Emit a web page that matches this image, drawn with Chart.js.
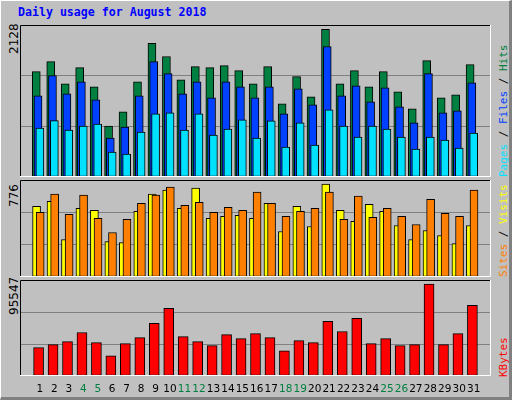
<!DOCTYPE html>
<html><head><meta charset="utf-8">
<script src="https://cdn.jsdelivr.net/npm/chart.js@4"></script>
<style>
body{margin:0;}
#wrap{position:relative;width:512px;height:400px;background:#c0c0c0;box-sizing:border-box;border-style:solid;border-width:1px 3px 3px 1px;border-color:#fff #808080 #808080 #fff;overflow:hidden;font-family:"DejaVu Sans Mono",monospace;}
canvas{position:absolute;}
.t{position:absolute;white-space:nowrap;}
.rot{position:absolute;white-space:nowrap;transform-origin:0 0;transform:rotate(-90deg);}
</style></head><body>
<div id="wrap">
<div class="t" style="left:17px;top:4px;color:#0000ff;font-weight:bold;font-size:11.6px;">Daily usage for August 2018</div>
<div class="rot" style="left:6px;top:53px;font-family:'DejaVu Sans';font-size:12px;">2128</div>
<div class="rot" style="left:6px;top:206px;font-family:'DejaVu Sans';font-size:12px;">776</div>
<div class="rot" style="left:6px;top:314px;font-family:'DejaVu Sans';font-size:12px;">95547</div>
<div class="rot" style="left:496px;top:176px;font-size:11px;"><span style="color:#00e0ff">Pages</span> / <span style="color:#0040ff">Files</span> / <span style="color:#008040">Hits</span></div>
<div class="rot" style="left:496px;top:276px;font-size:11px;"><span style="color:#ff8000">Sites</span> / <span style="color:#ffff00">Visits</span></div>
<div class="rot" style="left:496px;top:376px;font-size:11px;"><span style="color:#ff0000">KBytes</span></div>
<canvas id="c1" style="left:19px;top:24px;" width="471" height="152"></canvas>
<canvas id="c2" style="left:19px;top:179px;" width="471" height="97"></canvas>
<canvas id="c3" style="left:19px;top:279px;" width="471" height="120"></canvas>
</div>
<script>
const days = Array.from({length:31},(_,i)=>i+1);
const weekendDays = [4,5,11,12,18,19,25,26];
const hits  = [1475,1616,1306,1531,1264,714,912,1334,1870,1687,1362,1546,1531,1560,1489,1306,1546,1024,1405,1123,2067,1306,1489,1264,1475,1193,954,1630,1109,1151,1574];
const files = [1137,1419,1165,1334,1081,545,700,1137,1616,1447,1165,1334,1109,1334,1264,1109,1264,883,1236,1010,1827,1137,1278,1052,1250,982,757,1447,898,926,1320];
const pages = [686,789,658,714,742,348,320,630,883,898,658,883,588,672,799,545,785,418,757,447,940,714,559,714,672,559,390,559,517,404,616];
const visits= [566,606,299,550,533,283,275,525,663,695,550,711,469,485,493,469,590,364,566,404,744,533,445,582,525,412,299,372,331,267,412];
const sites = [517,663,501,655,469,356,461,590,655,719,574,598,517,558,533,679,590,485,525,550,679,461,647,477,550,485,420,622,509,485,695];
const kbytes= [28162,31180,34197,43250,33190,20116,32185,38220,52301,67388,39226,34197,30174,41238,37214,42243,38220,25145,35203,33190,54313,44255,57331,32185,37214,30174,31180,91528,31180,42243,70406];
const maxTop=2128, maxMid=776, maxBot=95547;

const frame={id:'frame',afterDraw(c){const a=c.chartArea,x=c.ctx;x.save();x.lineWidth=1;
 x.strokeStyle='#000';x.beginPath();x.moveTo(a.left+0.5,a.bottom);x.lineTo(a.left+0.5,a.top+0.5);x.lineTo(a.right,a.top+0.5);x.stroke();
 x.strokeStyle='#fff';x.beginPath();x.moveTo(a.right-0.5,a.top);x.lineTo(a.right-0.5,a.bottom-0.5);x.lineTo(a.left,a.bottom-0.5);x.stroke();x.restore();}};

function ds(vals,off,color,w){return {data:vals.map((v,i)=>({x:days[i]+off,y:v})),backgroundColor:color,borderColor:'#000',borderWidth:1,borderSkipped:false,barThickness:w,grouped:false};}
function make(id,sets,max,showX){
 new Chart(document.getElementById(id),{type:'bar',data:{datasets:sets},plugins:[frame],
 options:{responsive:false,animation:false,events:[],layout:{padding:0},
  plugins:{legend:{display:false},tooltip:{enabled:false}},
  scales:{
   x:{type:'linear',min:0.15,max:31.67,display:showX,border:{display:false},grid:{display:false,drawTicks:false},
      afterBuildTicks:s=>{s.ticks=days.map(d=>({value:d}));},
      afterFit:s=>{s.height=showX?24:0;},
      ticks:{autoSkip:false,maxRotation:0,padding:7,font:{family:'DejaVu Sans',size:10.5},
        color:c=>weekendDays.includes(c.tick.value)?'#008040':'#000',callback:v=>String(v)}},
   y:{min:0,max:max,display:true,border:{display:false},
      afterBuildTicks:s=>{s.ticks=[0,max/3,2*max/3,max].map(v=>({value:v}));},
      afterFit:s=>{s.width=0;},
      ticks:{display:false},
      grid:{drawTicks:false,color:c=>(c.index===1||c.index===2)?'#808080':'rgba(0,0,0,0)',lineWidth:1}}
  }}});
}
make('c1',[ds(pages,0,'#00e0ff',8),ds(files,-0.13,'#0040ff',8),ds(hits,-0.25,'#008040',8)],maxTop,false);
make('c2',[ds(sites,0.02,'#ff8000',8),ds(visits,-0.23,'#ffff00',8)],maxMid,false);
make('c3',[ds(kbytes,-0.09,'#ff0000',10)],maxBot,true);
</script>
</body></html>
